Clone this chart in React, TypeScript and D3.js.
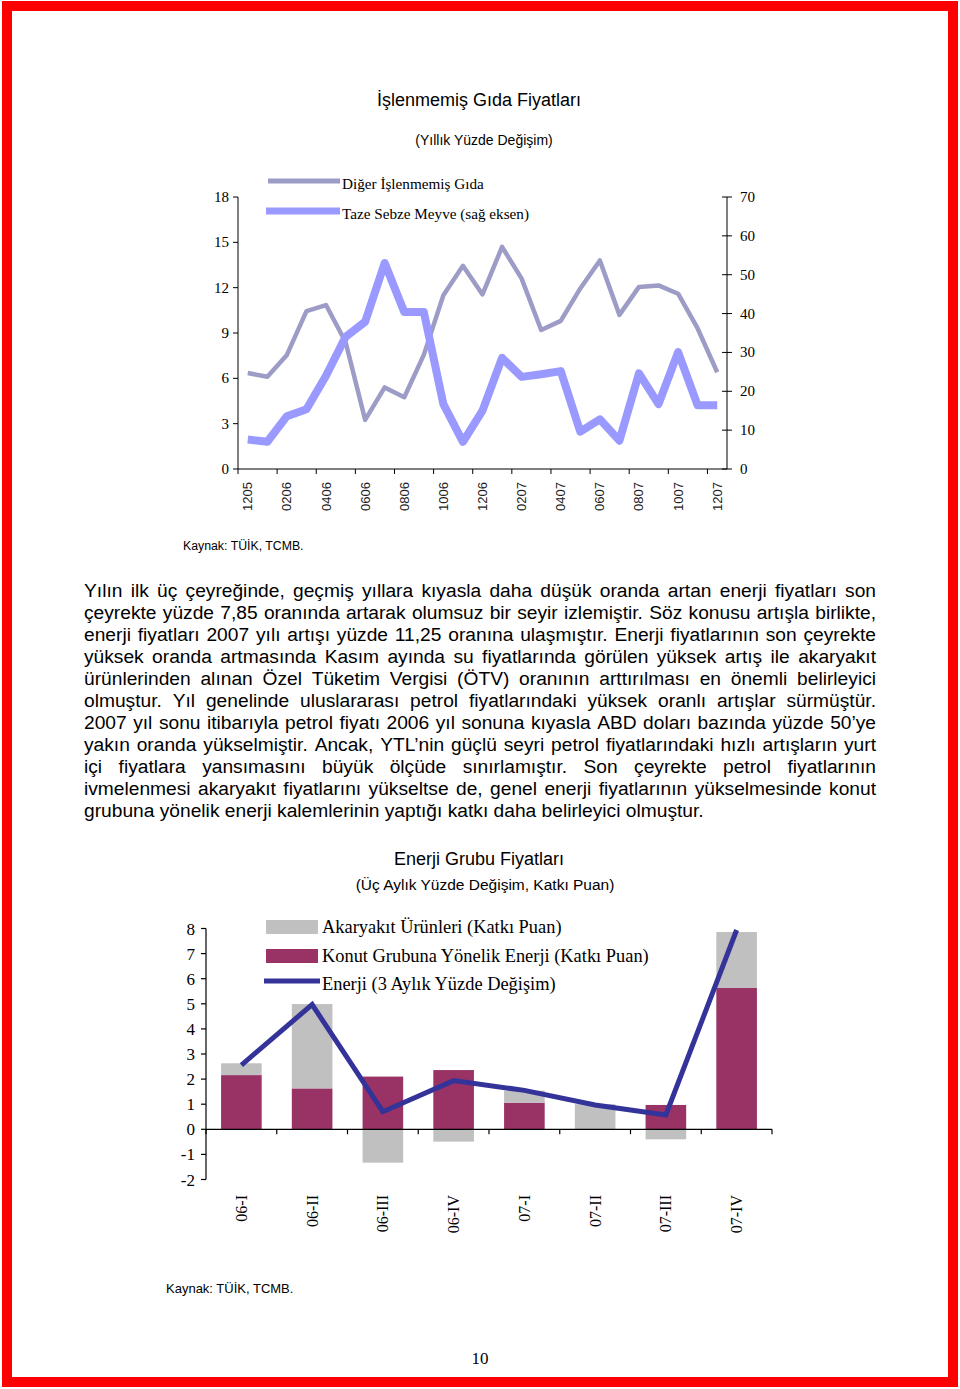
import React, { useEffect, useRef } from "react";
import * as d3 from "d3";

// ---------- Top chart data ----------
const months = [
  "12/05", "01/06", "02/06", "03/06", "04/06", "05/06", "06/06", "07/06", "08/06", "09/06", "10/06", "11/06", "12/06",
  "01/07", "02/07", "03/07", "04/07", "05/07", "06/07", "07/07", "08/07", "09/07", "10/07", "11/07", "12/07",
];
const monthTickLabels = ["1205", "0206", "0406", "0606", "0806", "1006", "1206", "0207", "0407", "0607", "0807", "1007", "1207"];
const digerGida = [6.35, 6.1, 7.55, 10.45, 10.85, 8.4, 3.25, 5.4, 4.75, 7.55, 11.5, 13.45, 11.55, 14.7, 12.6, 9.2, 9.8, 11.95, 13.8, 10.2, 12.05, 12.15, 11.6, 9.3, 6.4];
const tazeSebze = [7.6, 7.0, 13.6, 15.4, 24.0, 34.0, 37.9, 53.0, 40.4, 40.4, 16.7, 7.0, 15.0, 28.6, 23.7, 24.4, 25.2, 9.6, 12.8, 7.3, 24.6, 16.7, 30.1, 16.4, 16.4];
const leftTicks = [0, 3, 6, 9, 12, 15, 18];
const rightTicks = [0, 10, 20, 30, 40, 50, 60, 70];

// ---------- Bottom chart data ----------
const quarters = ["06-I", "06-II", "06-III", "06-IV", "07-I", "07-II", "07-III", "07-IV"];
const konutEnerji = [2.16, 1.63, 2.1, 2.36, 1.06, 0.0, 0.97, 5.63];
const akaryakit = [0.47, 3.36, -1.33, -0.49, 0.48, 1.0, -0.4, 2.23];
const enerjiDegisim = [2.56, 4.97, 0.7, 1.94, 1.55, 0.97, 0.57, 7.94];
const bottomTicks = [-2, -1, 0, 1, 2, 3, 4, 5, 6, 7, 8];

// ---------- Body text ----------
const bodyLines = [
  "Yılın ilk üç çeyreğinde, geçmiş yıllara kıyasla daha düşük oranda artan enerji fiyatları son",
  "çeyrekte yüzde 7,85 oranında artarak olumsuz bir seyir izlemiştir. Söz konusu artışla birlikte,",
  "enerji fiyatları 2007 yılı artışı yüzde 11,25 oranına ulaşmıştır. Enerji fiyatlarının son çeyrekte",
  "yüksek oranda artmasında Kasım ayında su fiyatlarında görülen yüksek artış ile akaryakıt",
  "ürünlerinden alınan Özel Tüketim Vergisi (ÖTV) oranının arttırılması en önemli belirleyici",
  "olmuştur. Yıl genelinde uluslararası petrol fiyatlarındaki yüksek oranlı artışlar sürmüştür.",
  "2007 yıl sonu itibarıyla petrol fiyatı 2006 yıl sonuna kıyasla ABD doları bazında yüzde 50’ye",
  "yakın oranda yükselmiştir. Ancak, YTL’nin güçlü seyri petrol fiyatlarındaki hızlı artışların yurt",
  "içi fiyatlara yansımasını büyük ölçüde sınırlamıştır. Son çeyrekte petrol fiyatlarının",
  "ivmelenmesi akaryakıt fiyatlarını yükseltse de, genel enerji fiyatlarının yükselmesinde konut",
  "grubuna yönelik enerji kalemlerinin yaptığı katkı daha belirleyici olmuştur.",
];

const SANS = "'Liberation Sans', Arial, sans-serif";
const SERIF = "'Liberation Serif', 'Times New Roman', serif";

const GRAY_LINE = "#9c9cc6";
const BLUE_LINE = "#9999ff";
const KONUT = "#993366";
const AKARYAKIT = "#c0c0c0";
const ENERJI = "#333399";

function BodyText() {
  const ref = useRef<SVGGElement>(null);
  useEffect(() => {
    const g = d3.select(ref.current);
    g.selectAll("*").remove();
    const left = 84, width = 792, top = 597, lh = 22;
    bodyLines.forEach((line, i) => {
      const y = top + i * lh;
      if (i === bodyLines.length - 1) {
        g.append("text").attr("x", left).attr("y", y).text(line);
        return;
      }
      const words = line.split(" ");
      const nodes = words.map((w) => g.append("text").attr("y", y).text(w));
      const widths = nodes.map((n) => (n.node() as SVGTextElement).getComputedTextLength());
      const gap = (width - d3.sum(widths)) / (words.length - 1);
      let x = left;
      nodes.forEach((n, j) => {
        n.attr("x", x);
        x += widths[j] + gap;
      });
    });
  }, []);
  return <g ref={ref} fontFamily={SANS} fontSize={19.2} fill="#000" />;
}

function TopChart() {
  const x = d3.scaleBand<string>().domain(months).range([238, 727]);
  const bw = x.bandwidth();
  const yL = d3.scaleLinear().domain([0, 18]).range([469, 197]);
  const yR = d3.scaleLinear().domain([0, 70]).range([469, 197]);
  const cx = (i: number) => (x(months[i]) as number) + bw / 2;
  const grayPath = d3.line<number>().x((_, i) => cx(i)).y((d) => yL(d))(digerGida) as string;
  const bluePath = d3.line<number>().x((_, i) => cx(i)).y((d) => yR(d))(tazeSebze) as string;
  const tickMonths = months.filter((_, i) => i % 2 === 0);
  return (
    <g>
      <text x={479} y={106} textAnchor="middle" fontFamily={SANS} fontSize={18}>İşlenmemiş Gıda Fiyatları</text>
      <text x={484} y={145} textAnchor="middle" fontFamily={SANS} fontSize={14}>(Yıllık Yüzde Değişim)</text>

      {/* axes */}
      <line x1={238} x2={238} y1={yL(18)} y2={yL(0)} stroke="#000" />
      <line x1={727} x2={727} y1={yR(70)} y2={yR(0)} stroke="#000" />
      <line x1={238} x2={727} y1={yL(0)} y2={yL(0)} stroke="#000" />
      {leftTicks.map((t) => (
        <g key={"l" + t}>
          <line x1={233} x2={238} y1={yL(t)} y2={yL(t)} stroke="#000" />
          <text x={229} y={yL(t) + 5} textAnchor="end" fontFamily={SERIF} fontSize={15}>{t}</text>
        </g>
      ))}
      {rightTicks.map((t) => (
        <g key={"r" + t}>
          <line x1={722} x2={732} y1={yR(t)} y2={yR(t)} stroke="#000" />
          <text x={740} y={yR(t) + 5} textAnchor="start" fontFamily={SERIF} fontSize={15}>{t}</text>
        </g>
      ))}
      {tickMonths.map((m, k) => {
        const bx = x(m) as number;
        const lx = bx + bw / 2;
        return (
          <g key={m}>
            <line x1={bx} x2={bx} y1={469} y2={474} stroke="#000" />
            <text transform={`translate(${lx + 4.5},482) rotate(-90)`} textAnchor="end" fontFamily={SANS} fontSize={13} fill="#222">
              {monthTickLabels[k]}
            </text>
          </g>
        );
      })}

      {/* lines */}
      <path d={grayPath} fill="none" stroke={GRAY_LINE} strokeWidth={4.5} strokeLinejoin="round" />
      <path d={bluePath} fill="none" stroke={BLUE_LINE} strokeWidth={8} strokeLinejoin="round" />

      {/* legend */}
      <line x1={268} x2={340} y1={181} y2={181} stroke={GRAY_LINE} strokeWidth={5} />
      <text x={342} y={189} fontFamily={SERIF} fontSize={15.2}>Diğer İşlenmemiş Gıda</text>
      <line x1={266} x2={340} y1={211} y2={211} stroke={BLUE_LINE} strokeWidth={7} />
      <text x={342} y={219} fontFamily={SERIF} fontSize={15.2}>Taze Sebze Meyve (sağ eksen)</text>

      <text x={183} y={550} fontFamily={SANS} fontSize={12.3}>Kaynak: TÜİK, TCMB.</text>
    </g>
  );
}

function BottomChart() {
  const x = d3.scaleBand<string>().domain(quarters).range([206, 772]).paddingInner(0.426).paddingOuter(0.213);
  const y = d3.scaleLinear().domain([-2, 8]).range([1179.5, 928.5]);
  const rows = quarters.map((q, i) => ({ q, konut: konutEnerji[i], akaryakit: akaryakit[i] }));
  const stack = d3.stack<any>().keys(["konut", "akaryakit"]).offset(d3.stackOffsetDiverging);
  const series = stack(rows);
  const colors: Record<string, string> = { konut: KONUT, akaryakit: AKARYAKIT };
  const linePath = d3
    .line<number>()
    .x((_, i) => (x(quarters[i]) as number) + x.bandwidth() / 2)
    .y((d) => y(d))(enerjiDegisim) as string;
  const step = x.step();
  const boundaries = d3.range(quarters.length + 1).map((k) => 206 + k * step);
  return (
    <g>
      <text x={479} y={865} textAnchor="middle" fontFamily={SANS} fontSize={18}>Enerji Grubu Fiyatları</text>
      <text x={485} y={890} textAnchor="middle" fontFamily={SANS} fontSize={15.5}>(Üç Aylık Yüzde Değişim, Katkı Puan)</text>

      {series.map((s) => (
        <g key={s.key} fill={colors[s.key]}>
          {s.map((d, i) => {
            const y0 = Math.min(y(d[0]), y(d[1]));
            const h = Math.abs(y(d[0]) - y(d[1]));
            return <rect key={i} x={x(quarters[i]) as number} width={x.bandwidth()} y={y0} height={h} />;
          })}
        </g>
      ))}

      {/* axes */}
      <line x1={206} x2={206} y1={y(8)} y2={y(-2)} stroke="#000" strokeWidth={1.2} />
      {bottomTicks.map((t) => (
        <g key={t}>
          <line x1={201} x2={206} y1={y(t)} y2={y(t)} stroke="#000" strokeWidth={1.2} />
          <text x={195} y={y(t) + 6} textAnchor="end" fontFamily={SERIF} fontSize={17}>{t}</text>
        </g>
      ))}
      <line x1={206} x2={772} y1={y(0)} y2={y(0)} stroke="#000" strokeWidth={1.2} />
      {boundaries.map((b, k) => (
        <line key={k} x1={b} x2={b} y1={y(0)} y2={y(0) + 5} stroke="#000" strokeWidth={1.2} />
      ))}
      {quarters.map((q) => (
        <text
          key={q}
          transform={`translate(${(x(q) as number) + x.bandwidth() / 2 + 5.5},1195) rotate(-90)`}
          textAnchor="end"
          fontFamily={SERIF}
          fontSize={16}
        >
          {q}
        </text>
      ))}

      <path d={linePath} fill="none" stroke={ENERJI} strokeWidth={5} strokeLinejoin="miter" />

      {/* legend */}
      <rect x={266} y={920} width={52} height={14} fill={AKARYAKIT} />
      <text x={322} y={933} fontFamily={SERIF} fontSize={18.4}>Akaryakıt Ürünleri (Katkı Puan)</text>
      <rect x={266} y={949} width={52} height={14} fill={KONUT} />
      <text x={322} y={962} fontFamily={SERIF} fontSize={18.4}>Konut Grubuna Yönelik Enerji (Katkı Puan)</text>
      <line x1={264} x2={320} y1={981} y2={981} stroke={ENERJI} strokeWidth={5} />
      <text x={322} y={990} fontFamily={SERIF} fontSize={18.4}>Enerji (3 Aylık Yüzde Değişim)</text>

      <text x={166} y={1293} fontFamily={SANS} fontSize={13}>Kaynak: TÜİK, TCMB.</text>
    </g>
  );
}

export default function App() {
  return (
    <svg
      width={960}
      height={1389}
      viewBox="0 0 960 1389"
      style={{ position: "absolute", left: 0, top: 0, display: "block", background: "#fff" }}
    >
      <rect x={0} y={0} width={960} height={1389} fill="#fff" />
      <rect x={7} y={6} width={946} height={1376} fill="none" stroke="#ff0000" strokeWidth={10} />
      <TopChart />
      <BodyText />
      <BottomChart />
      <text x={480} y={1364} textAnchor="middle" fontFamily={SERIF} fontSize={17}>10</text>
    </svg>
  );
}
